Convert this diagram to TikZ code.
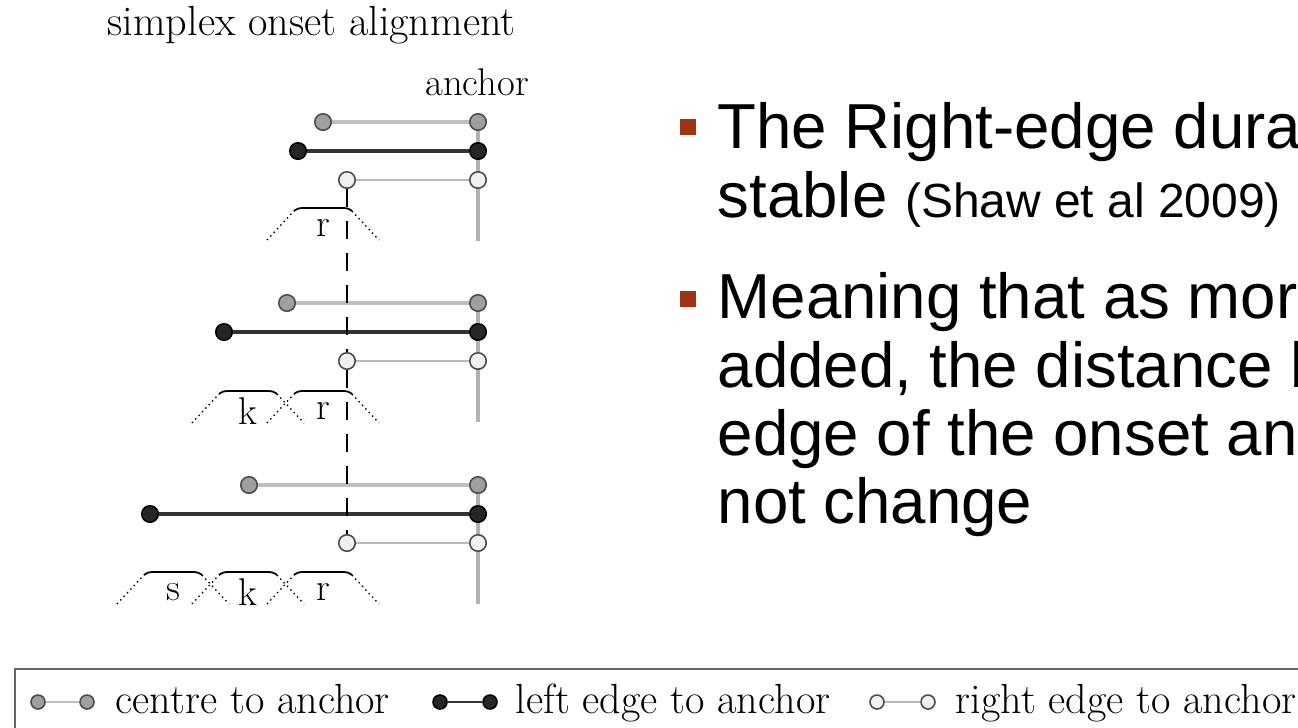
\documentclass[tikz,border=0pt]{standalone}
\usepackage{fontspec}
\newfontfamily\slidefont{Liberation Sans}
\usetikzlibrary{positioning}

\definecolor{bulletRed}{RGB}{158,52,20}

% one gesture: foot x, foot y, label
\newcommand{\gesture}[3]{%
  \draw [gestureLine, dotted] (#1,#2) -- (#1+27,#2-29);
  \draw [gestureLine, line width=1pt, rounded corners=2pt] (#1+27,#2-29) -- (#1+31,#2-32) -- (#1+81,#2-32) -- (#1+85,#2-29);
  \draw [gestureLine, dotted] (#1+85,#2-29) -- (#1+112,#2);
  \node [labelText] (lab#3#2) at (#1+56,#2-12) {#3};
}

\begin{document}
\begin{tikzpicture}[x=0.02cm, y=-0.02cm, thick,
  centreDot/.style={circle, draw=black!70, fill=gray!75, line width=0.9pt, inner sep=0pt, minimum size=0.33cm},
  leftDot/.style={circle, draw=black, fill=black!85, line width=0.9pt, inner sep=0pt, minimum size=0.33cm},
  rightDot/.style={circle, draw=black!70, fill=gray!12, line width=0.9pt, inner sep=0pt, minimum size=0.33cm},
  centreLine/.style={gray!50, line width=2pt},
  leftLine/.style={black!80, line width=2pt},
  rightLine/.style={gray!55, line width=1.1pt},
  anchorLine/.style={gray!60, line width=2pt},
  gestureLine/.style={black, line width=0.8pt},
  labelText/.style={font=\fontsize{22}{24}\selectfont, inner sep=0pt},
  serifText/.style={font=\fontsize{24}{26}\selectfont, inner sep=0pt, anchor=base west},
  slideText/.style={font=\slidefont\fontsize{36.2}{40}\selectfont, inner sep=0pt, anchor=base west},
  bullet/.style={rectangle, fill=bulletRed, inner sep=0pt, minimum size=0.32cm}
]

\useasboundingbox (0,0) rectangle (1298,727);
\clip (0,0) rectangle (1298,727);

% --- Title ---
\node [serifText] (title) at (107,35) {simplex onset alignment};
\node [labelText, anchor=base] (anchorLabel) at (477,95) {anchor};

% --- Three onsets ---
\foreach \g/\y/\xc/\xl in {1/122/323/298, 2/303/287/224, 3/485/249/150} {
  \node [centreDot] (C\g) at (\xc,\y) {};
  \node [centreDot] (CA\g) at (478,\y) {};
  \node [leftDot] (L\g) at (\xl,\y+29) {};
  \node [leftDot] (LA\g) at (478,\y+29) {};
  \node [rightDot] (R\g) at (347,\y+58) {};
  \node [rightDot] (RA\g) at (478,\y+58) {};
  \coordinate (foot\g) at (478,\y+119);

  \draw [anchorLine] (CA\g) -- (LA\g);
  \draw [anchorLine] (LA\g) -- (RA\g);
  \draw [anchorLine] (RA\g) -- (foot\g);

  \draw [centreLine] (C\g) -- (CA\g);
  \draw [leftLine] (L\g) -- (LA\g);
  \draw [rightLine] (R\g) -- (RA\g);
}

% gestures
\gesture{267}{240}{r}
\gesture{192}{423}{k}
\gesture{267}{423}{r}
\gesture{117}{604}{s}
\gesture{192}{604}{k}
\gesture{267}{604}{r}

% right edge of the onset
\draw [black, line width=0.8pt, dash pattern=on 0.36cm off 0.28cm] (R1) -- (R2);
\draw [black, line width=0.8pt, dash pattern=on 0.36cm off 0.28cm] (R2) -- (R3);

% --- Bullets ---
\node [bullet] (b1) at (688,127) {};
\node [slideText] (t11) at (717,148) {The Right-edge dura};
\node [slideText] (t12) at (717,217) {stable {\fontsize{27.3}{29}\selectfont(Shaw et al 2009)}};

\node [bullet] (b2) at (688,299) {};
\node [slideText] (t21) at (717,318) {Meaning that as mor};
\node [slideText] (t22) at (717,387) {added, the distance b};
\node [slideText] (t23) at (717,455) {edge of the onset an};
\node [slideText] (t24) at (717,523) {not change};

% --- Legend ---
\draw [black!60, line width=1.5pt] (15,760) -- (15,669) -- (1320,669);

\node [centreDot, minimum size=0.28cm] (legC1) at (38,702) {};
\node [centreDot, minimum size=0.28cm] (legC2) at (87,702) {};
\draw [centreLine, line width=1pt] (legC1) -- (legC2);
\node [serifText] (legCtext) at (115,713) {centre to anchor};

\node [leftDot, minimum size=0.28cm] (legL1) at (440,702) {};
\node [leftDot, minimum size=0.28cm] (legL2) at (490,702) {};
\draw [leftLine, line width=1.2pt] (legL1) -- (legL2);
\node [serifText] (legLtext) at (515,713) {left edge to anchor};

\node [rightDot, minimum size=0.28cm] (legR1) at (877,702) {};
\node [rightDot, minimum size=0.28cm] (legR2) at (928,702) {};
\draw [rightLine] (legR1) -- (legR2);
\node [serifText] (legRtext) at (955,713) {right edge to anchor};

\end{tikzpicture}
\end{document}
